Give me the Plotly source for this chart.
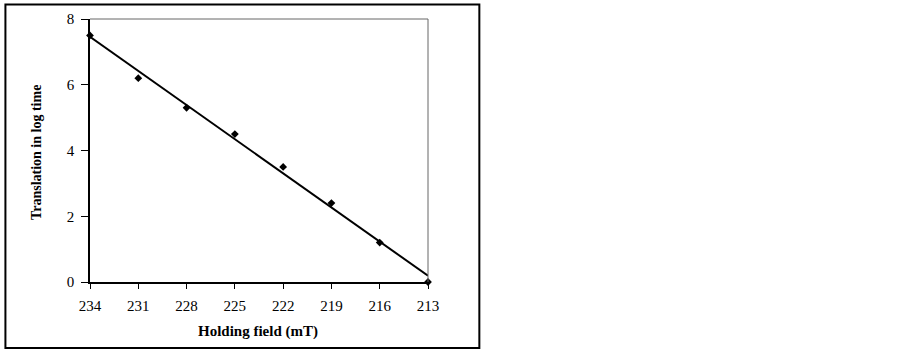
import plotly.graph_objects as go

holding_field = [234, 231, 228, 225, 222, 219, 216, 213]
translation = [7.5, 6.2, 5.3, 4.5, 3.5, 2.4, 1.2, 0.0]
fit_field = [234, 213]
fit_translation = [7.46, 0.19]
x_ticks = [234, 231, 228, 225, 222, 219, 216, 213]
y_ticks = [0, 2, 4, 6, 8]

FONT = "Liberation Serif, Times New Roman, serif"

fig = go.Figure()
fig.add_trace(go.Scatter(
    x=fit_field, y=fit_translation, mode="lines",
    line=dict(color="black", width=2), cliponaxis=False, showlegend=False))
fig.add_trace(go.Scatter(
    x=holding_field, y=translation, mode="markers",
    marker=dict(symbol="diamond", color="black", size=6),
    cliponaxis=False, showlegend=False))

L, R, T, B = 90, 427.7, 19, 281.7
W, H = R - L, B - T

def px_to_paper_x(p):
    return (p - L) / W

def px_to_paper_y(p):
    return (B - p) / H

shapes = [
    dict(type="rect", xref="paper", yref="paper",
         x0=px_to_paper_x(5.5), x1=px_to_paper_x(479), y0=px_to_paper_y(347.5), y1=px_to_paper_y(4.5),
         line=dict(color="black", width=2), fillcolor="rgba(0,0,0,0)", layer="below"),
    dict(type="line", xref="paper", yref="paper", x0=0, x1=1, y0=1, y1=1,
         line=dict(color="#666666", width=1)),
    dict(type="line", xref="paper", yref="paper", x0=1, x1=1, y0=0, y1=1,
         line=dict(color="#666666", width=1)),
]

annotations = [
    dict(text="<b>Holding field (mT)</b>", xref="paper", yref="paper",
         x=px_to_paper_x(258), y=px_to_paper_y(331), xanchor="center", yanchor="middle",
         showarrow=False, font=dict(family=FONT, size=15, color="black")),
    dict(text="<b>Translation in log time</b>", xref="paper", yref="paper",
         x=px_to_paper_x(36), y=px_to_paper_y(152), xanchor="center", yanchor="middle",
         textangle=-90, showarrow=False, font=dict(family=FONT, size=14, color="black")),
]

fig.update_layout(
    width=902, height=350,
    margin=dict(l=L, r=902 - R, t=T, b=350 - B, pad=0, autoexpand=False),
    paper_bgcolor="white", plot_bgcolor="white",
    font=dict(family=FONT, color="black", size=15),
    shapes=shapes,
    annotations=annotations,
    xaxis=dict(
        range=[234, 213], tickvals=x_ticks, ticktext=[str(v) for v in x_ticks],
        showline=True, linecolor="black", linewidth=1.5,
        ticks="outside", ticklen=5, tickcolor="black", tickwidth=1,
        showgrid=False, zeroline=False, automargin=False,
        tickfont=dict(family=FONT, size=15), ticklabelstandoff=4,
    ),
    yaxis=dict(
        range=[0, 8], tickvals=y_ticks,
        showline=True, linecolor="black", linewidth=1.5,
        ticks="outside", ticklen=7, tickcolor="black", tickwidth=1,
        showgrid=False, zeroline=False, automargin=False,
        tickfont=dict(family=FONT, size=15), ticklabelstandoff=4,
    ),
)

fig.write_html("out.html", config={"displayModeBar": False},
               post_script="document.body.style.margin='0';document.body.style.overflow='hidden';")
